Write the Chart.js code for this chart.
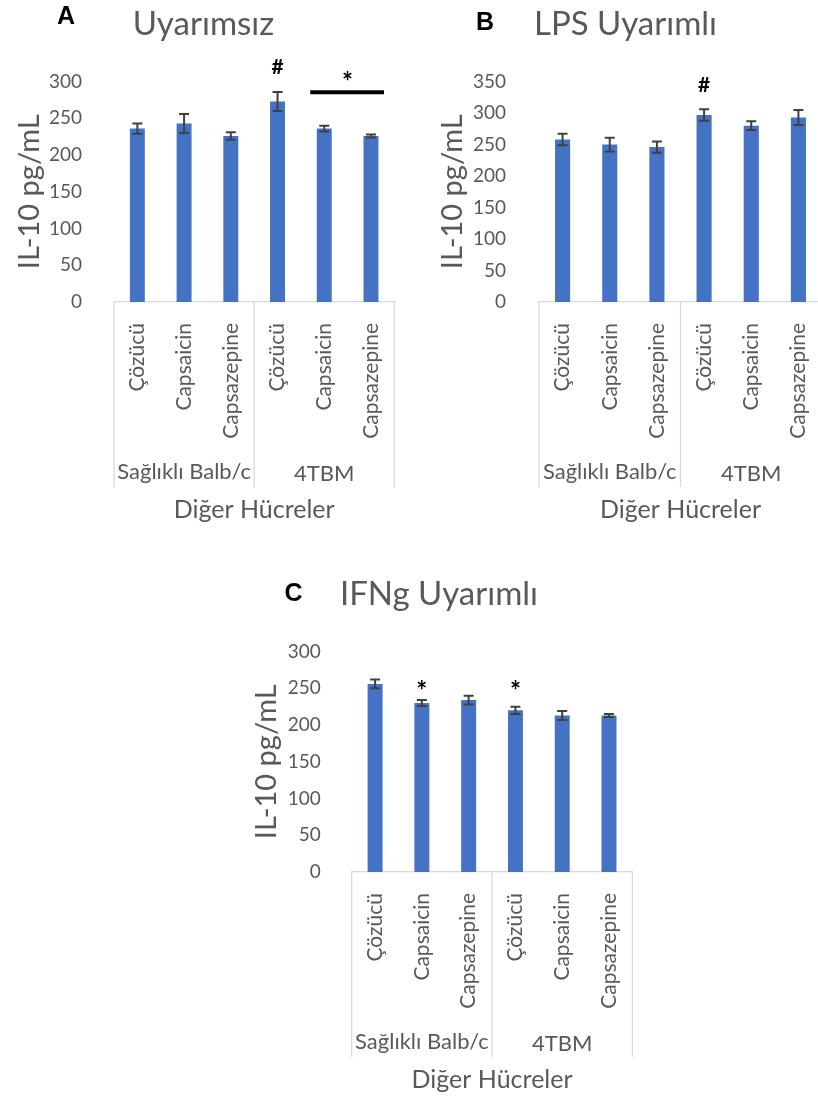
<!DOCTYPE html>
<html>
<head>
<meta charset="utf-8">
<script src="https://cdn.jsdelivr.net/npm/chart.js@4"></script>
<style>
html, body { margin: 0; padding: 0; background: #fff; overflow: hidden; width: 818px; height: 1101px; }
canvas { position: absolute; }
</style>
</head>
<body>
<canvas id="chartA" width="410" height="530" style="left:0;top:0"></canvas>
<canvas id="chartB" width="430" height="530" style="left:410px;top:0"></canvas>
<canvas id="chartC" width="418" height="530" style="left:230px;top:570px"></canvas>
<script>
// kategoriler
const labels = ['Çözücü', 'Capsaicin', 'Capsazepine', 'Çözücü', 'Capsaicin', 'Capsazepine'];
const groupLabels = ['Sağlıklı Balb/c', '4TBM'];
const groupSizes = [3, 3];
const yAxisTitle = 'IL-10 pg/mL';
const xAxisTitle = 'Diğer Hücreler';

// A - Uyarımsız
const uyarimsizMean = [236, 243, 226, 273, 236, 226];
const uyarimsizErr = [7, 13, 5, 13, 4, 2];
// B - LPS Uyarımlı
const lpsMean = [258, 250, 246, 297, 280, 293];
const lpsErr = [9, 11, 9, 9, 7, 12];
// C - IFNg Uyarımlı
const ifngMean = [256, 230, 234, 220, 213, 213];
const ifngErr = [6, 4, 6, 5, 6, 2];

const gray = '#595959';
const FONT = 'Lato';

// yazıyı görünen ortasına göre dikeyde ortala
function fillMid(ctx, text, x, cy) {
    const m = ctx.measureText(text);
    ctx.fillText(text, x, cy + (m.actualBoundingBoxAscent - m.actualBoundingBoxDescent) / 2);
}

// hata çubukları
const errorBars = {
    id: 'errorBars',
    afterDatasetsDraw(chart, args, opts) {
        const { ctx } = chart;
        const y = chart.scales.y;
        const values = chart.data.datasets[0].data;
        ctx.save();
        ctx.strokeStyle = '#404040';
        ctx.lineWidth = 2;
        chart.getDatasetMeta(0).data.forEach((bar, i) => {
            const top = y.getPixelForValue(values[i] + opts.errors[i]);
            const bot = y.getPixelForValue(values[i] - opts.errors[i]);
            ctx.beginPath();
            ctx.moveTo(bar.x, top); ctx.lineTo(bar.x, bot);
            ctx.moveTo(bar.x - 5, top); ctx.lineTo(bar.x + 5, top);
            ctx.moveTo(bar.x - 5, bot); ctx.lineTo(bar.x + 5, bot);
            ctx.stroke();
        });
        ctx.restore();
    }
};

// grup kutusu, panel harfi, anlamlılık işaretleri
const extras = {
    id: 'extras',
    afterDraw(chart, args, o) {
        const { ctx, chartArea: a } = chart;
        const x = chart.scales.x, y = chart.scales.y;
        ctx.save();
        const cuts = [a.left];
        let idx = 0;
        groupSizes.forEach(n => {
            idx += n;
            cuts.push(idx < labels.length ? (x.getPixelForValue(idx - 1) + x.getPixelForValue(idx)) / 2 : a.right);
        });
        ctx.strokeStyle = '#d9d9d9';
        ctx.lineWidth = 1.3;
        cuts.forEach(cx => {
            ctx.beginPath(); ctx.moveTo(cx, a.bottom); ctx.lineTo(cx, a.bottom + 185); ctx.stroke();
        });
        ctx.fillStyle = gray;
        ctx.font = '22px ' + FONT;
        ctx.textAlign = 'center';
        groupLabels.forEach((g, i) => fillMid(ctx, g, (cuts[i] + cuts[i + 1]) / 2, a.bottom + 171));

        ctx.fillStyle = '#000';
        ctx.font = 'bold 25px "Liberation Sans", Arial, sans-serif';
        fillMid(ctx, o.letter, o.letterX, o.letterY);

        o.marks.forEach(m => {
            const x0 = x.getPixelForValue(m.from), x1 = x.getPixelForValue(m.to);
            ctx.fillStyle = '#000';
            ctx.font = (m.text === '*' ? 'bold 26px ' : 'bold 21px ') + FONT;
            fillMid(ctx, m.text, (x0 + x1) / 2, y.getPixelForValue(m.at));
            if (m.line) {
                ctx.strokeStyle = '#000';
                ctx.lineWidth = 4;
                const ly = y.getPixelForValue(m.line);
                ctx.beginPath(); ctx.moveTo(x0 - 14, ly); ctx.lineTo(x1 + 13, ly); ctx.stroke();
            }
        });
        ctx.restore();
    }
};

function buildChart(id, means, errs, o) {
    return new Chart(document.getElementById(id), {
        type: 'bar',
        data: {
            labels: labels,
            datasets: [{
                data: means,
                backgroundColor: '#4472C4',
                barPercentage: 0.32,
                categoryPercentage: 1
            }]
        },
        options: {
            responsive: false,
            animation: false,
            layout: { padding: { left: o.padL, right: o.padR, top: 0, bottom: 0 } },
            plugins: {
                legend: { display: false },
                tooltip: { enabled: false },
                title: {
                    display: true, text: o.title, color: gray,
                    font: { family: FONT, size: 33, weight: 'normal' },
                    padding: { top: 5, bottom: 37 }
                },
                errorBars: { errors: errs },
                extras: { letter: o.letter, letterX: o.letterX, letterY: o.letterY, marks: o.marks }
            },
            scales: {
                x: {
                    grid: { display: false },
                    border: { color: '#d9d9d9', width: 1.3 },
                    ticks: {
                        color: gray, font: { family: FONT, size: 21 },
                        minRotation: 90, maxRotation: 90, autoSkip: false, padding: 13
                    },
                    title: {
                        display: true, text: xAxisTitle, color: gray,
                        font: { family: FONT, size: 25 }, padding: { top: 0, bottom: 5 }
                    },
                    afterFit: s => { s.height = 228; }
                },
                y: {
                    min: 0, max: o.yMax,
                    ticks: { stepSize: 50, color: gray, font: { family: FONT, size: 19 }, padding: o.tickPad },
                    grid: { display: false },
                    border: { display: false },
                    title: {
                        display: true, text: yAxisTitle, color: gray,
                        font: { family: FONT, size: 29 }, padding: { top: o.yTitlePad, bottom: 0 }
                    },
                    afterFit: s => { s.width = o.yWidth; }
                }
            }
        },
        plugins: [errorBars, extras]
    });
}

buildChart('chartA', uyarimsizMean, uyarimsizErr, {
    title: 'Uyarımsız', yMax: 300, padL: 7, padR: 10, yWidth: 107, yTitlePad: 5.6, tickPad: 24,
    letter: 'A', letterX: 66, letterY: 14.5,
    marks: [{ text: '#', from: 3, to: 3, at: 320 }, { text: '*', from: 4, to: 5, at: 307, line: 285.5 }]
});
buildChart('chartB', lpsMean, lpsErr, {
    title: 'LPS Uyarımlı', yMax: 350, padL: 19, padR: 18, yWidth: 110, yTitlePad: 6.1, tickPad: 25,
    letter: 'B', letterX: 75, letterY: 21,
    marks: [{ text: '#', from: 3, to: 3, at: 346 }]
});
buildChart('chartC', ifngMean, ifngErr, {
    title: 'IFNg Uyarımlı', yMax: 300, padL: 9.7, padR: 9.7, yWidth: 112, yTitlePad: 9.9, tickPad: 23,
    letter: 'C', letterX: 63.5, letterY: 22,
    marks: [{ text: '*', from: 1, to: 1, at: 254 }, { text: '*', from: 3, to: 3, at: 254 }]
});
</script>
</body>
</html>
